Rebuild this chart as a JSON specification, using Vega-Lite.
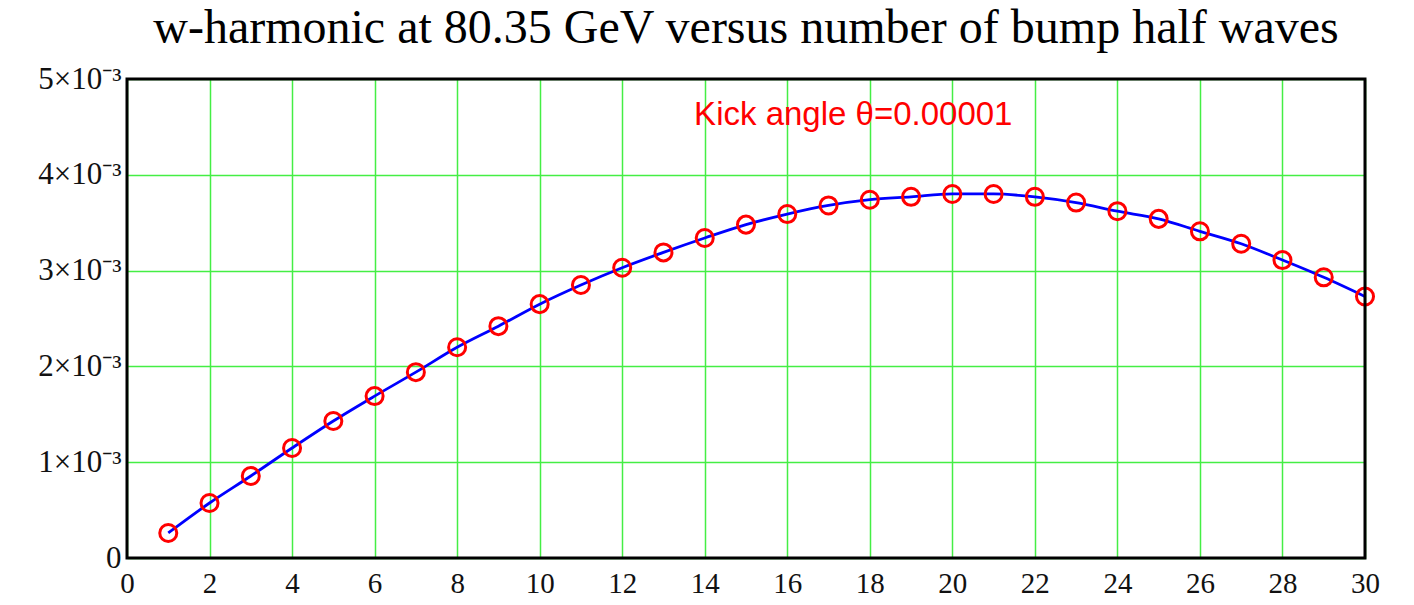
{
  "$schema": "https://vega.github.io/schema/vega-lite/v6.json",
  "width": 1238,
  "height": 479,
  "autosize": {"type": "none"},
  "padding": {"left": 127, "top": 79, "right": 49, "bottom": 47},
  "background": "white",
  "title": {
    "text": "w-harmonic at 80.35 GeV versus number of bump half waves",
    "font": "Liberation Serif",
    "fontSize": 48,
    "fontWeight": "normal",
    "color": "black",
    "anchor": "middle",
    "offset": 10
  },
  "config": {
    "view": {"stroke": null},
    "axis": {
      "labelFont": "Liberation Serif",
      "labelFontSize": 29,
      "labelColor": "#111",
      "ticks": false,
      "domain": false,
      "grid": true,
      "gridColor": "#44ee44",
      "gridWidth": 1.5,
      "gridOpacity": 1,
      "title": null
    }
  },
  "datasets": {
    "pts": [
      {"n": 1, "w": 0.000261},
      {"n": 2, "w": 0.000574},
      {"n": 3, "w": 0.000856},
      {"n": 4, "w": 0.001148},
      {"n": 5, "w": 0.00143},
      {"n": 6, "w": 0.00169},
      {"n": 7, "w": 0.00194},
      {"n": 8, "w": 0.0022},
      {"n": 9, "w": 0.00242},
      {"n": 10, "w": 0.00265},
      {"n": 11, "w": 0.00285},
      {"n": 12, "w": 0.00303},
      {"n": 13, "w": 0.00319},
      {"n": 14, "w": 0.00334},
      {"n": 15, "w": 0.00348},
      {"n": 16, "w": 0.00359},
      {"n": 17, "w": 0.00368},
      {"n": 18, "w": 0.00374},
      {"n": 19, "w": 0.00377},
      {"n": 20, "w": 0.0038},
      {"n": 21, "w": 0.0038},
      {"n": 22, "w": 0.00377},
      {"n": 23, "w": 0.00371},
      {"n": 24, "w": 0.00362},
      {"n": 25, "w": 0.00354},
      {"n": 26, "w": 0.00341},
      {"n": 27, "w": 0.00328},
      {"n": 28, "w": 0.00311},
      {"n": 29, "w": 0.00293},
      {"n": 30, "w": 0.00273}
    ],
    "note": [
      {"n": 17.6, "w": 0.00462, "label": "Kick angle θ=0.00001"}
    ],
    "frame": [
      {"x0": 0, "x1": 30, "y0": 0, "y1": 0.005}
    ]
  },
  "layer": [
    {
      "data": {"name": "pts"},
      "mark": {"type": "line", "color": "#0000ff", "strokeWidth": 2.8, "interpolate": "monotone"},
      "encoding": {
        "x": {
          "field": "n", "type": "quantitative",
          "scale": {"domain": [0, 30], "nice": false, "zero": false},
          "axis": {"values": [0,2,4,6,8,10,12,14,16,18,20,22,24,26,28,30], "labelPadding": 11, "labelFlush": false}
        },
        "y": {
          "field": "w", "type": "quantitative",
          "scale": {"domain": [0, 0.005], "nice": false},
          "axis": {
            "values": [0, 0.001, 0.002, 0.003, 0.004, 0.005],
            "labelExpr": "datum.value == 0 ? '0' : format(datum.value*1000, 'd') + '×10⁻³'",
            "labelFontSize": 31,
            "labelPadding": 6,
            "labelDy": 3,
            "labelFlush": false
          }
        }
      }
    },
    {
      "data": {"name": "pts"},
      "mark": {"type": "point", "shape": "circle", "filled": false, "color": "#ff0000", "strokeWidth": 3, "size": 290, "opacity": 1, "clip": false},
      "encoding": {
        "x": {"field": "n", "type": "quantitative"},
        "y": {"field": "w", "type": "quantitative"}
      }
    },
    {
      "data": {"name": "frame"},
      "mark": {"type": "rect", "fill": null, "stroke": "black", "strokeWidth": 3},
      "encoding": {
        "x": {"field": "x0", "type": "quantitative"},
        "x2": {"field": "x1"},
        "y": {"field": "y0", "type": "quantitative"},
        "y2": {"field": "y1"}
      }
    },
    {
      "data": {"name": "note"},
      "mark": {"type": "text", "font": "Liberation Sans", "fontSize": 33, "color": "#ff0000", "align": "center", "baseline": "middle"},
      "encoding": {
        "x": {"field": "n", "type": "quantitative"},
        "y": {"field": "w", "type": "quantitative"},
        "text": {"field": "label"}
      }
    }
  ]
}
